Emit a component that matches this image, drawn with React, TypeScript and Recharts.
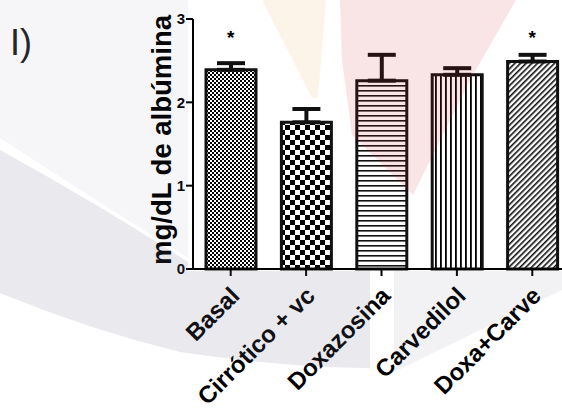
import { Bar, Cell, ComposedChart, ErrorBar, Scatter, XAxis, YAxis } from "recharts";

const groups = ["Basal", "Cirrótico + vc", "Doxazosina", "Carvedilol", "Doxa+Carve"];
const albumin = [2.39, 1.76, 2.26, 2.33, 2.49];
const semUp = [0.08, 0.16, 0.31, 0.08, 0.08];
const starY = [2.83, null, null, null, 2.83];
const yTicks = [0, 1, 2, 3];
const fills = ["url(#pFine)", "url(#pCheck)", "url(#pHoriz)", "url(#pVert)", "url(#pDiag)"];

const data = groups.map((g, i) => ({
  group: g,
  value: albumin[i],
  err: [0, semUp[i]],
  star: starY[i],
}));

const FONT = "'Liberation Sans', Arial, sans-serif";

function XTick({ x, y, payload }: any) {
  return (
    <g transform={`translate(${x - 2},${y + 7})`}>
      <text
        x={0}
        y={0}
        dy="0.72em"
        textAnchor="end"
        transform="rotate(-45)"
        fontFamily={FONT}
        fontWeight="bold"
        fontSize={24}
        fill="#000"
      >
        {payload.value}
      </text>
    </g>
  );
}

function YTick({ x, y, payload }: any) {
  return (
    <text x={x} y={y} dy="0.36em" textAnchor="end" fontFamily={FONT} fontWeight="bold" fontSize={15} fill="#000">
      {payload.value}
    </text>
  );
}

function YLabel({ viewBox }: any) {
  const cx = viewBox.x + viewBox.width - 31;
  const cy = viewBox.y + viewBox.height / 2 - 4;
  return (
    <text
      x={cx}
      y={cy}
      transform={`rotate(-90 ${cx} ${cy})`}
      textAnchor="middle"
      dominantBaseline="central"
      fontFamily={FONT}
      fontWeight="bold"
      fontSize={27}
      textLength={250}
      lengthAdjust="spacingAndGlyphs"
      fill="#000"
    >
      mg/dL de albúmina
    </text>
  );
}

function Star({ cx, cy, payload }: any) {
  if (payload == null || payload.star == null || !Number.isFinite(cy)) return null;
  return (
    <text x={cx} y={cy} dy="0.56em" textAnchor="middle" fontFamily={FONT} fontWeight="bold" fontSize={19} fill="#000">
      *
    </text>
  );
}

function Patterns() {
  return (
    <svg width={0} height={0} style={{ position: "absolute" }}>
      <defs>
        <pattern id="pFine" width={4} height={4} patternUnits="userSpaceOnUse">
          <rect width={4} height={4} fill="#fff" />
          <rect width={2} height={2} fill="#000" />
          <rect x={2} y={2} width={2} height={2} fill="#000" />
        </pattern>
        <pattern id="pCheck" width={10} height={10} patternUnits="userSpaceOnUse">
          <rect width={10} height={10} fill="#fff" />
          <rect width={5} height={5} fill="#000" />
          <rect x={5} y={5} width={5} height={5} fill="#000" />
        </pattern>
        <pattern id="pHoriz" width={5} height={5} patternUnits="userSpaceOnUse">
          <rect width={5} height={5} fill="#fff" />
          <rect width={5} height={1.6} fill="#111" />
        </pattern>
        <pattern id="pVert" width={5} height={5} patternUnits="userSpaceOnUse">
          <rect width={5} height={5} fill="#fff" />
          <rect width={1.8} height={5} fill="#000" />
        </pattern>
        <pattern id="pDiag" width={4} height={4} patternUnits="userSpaceOnUse" patternTransform="rotate(45)">
          <rect width={4} height={4} fill="#fff" />
          <rect width={1.6} height={4} fill="#111" />
        </pattern>
      </defs>
    </svg>
  );
}

function Watermark() {
  return (
    <svg width={562} height={412} style={{ position: "absolute", left: 0, top: 0, pointerEvents: "none" }}>
      <path d="M0,0 L188,0 L188,258 Q95,200 0,138 Z" fill="rgba(110,110,140,0.06)" />
      <path d="M0,150 Q100,205 188,262 L188,271 L370,271 L370,368 Q290,368 180,352 Q90,330 0,293 Z" fill="rgba(110,110,140,0.15)" />
      <path d="M394,271 L562,271 L562,290 L394,372 Z" fill="rgba(110,110,140,0.09)" />
      <path d="M262,0 L326,0 L318,98 L312,98 Z" fill="rgba(240,150,40,0.1)" />
      <path d="M340,0 L516,0 L470,80 L413,195 L352,135 L342,60 Z" fill="rgba(205,40,40,0.12)" />
    </svg>
  );
}

export default function App() {
  return (
    <div style={{ position: "absolute", left: 0, top: 0, width: 562, height: 412, overflow: "hidden", background: "#fff" }}>
      <Patterns />
      <div style={{ position: "absolute", left: 0, top: 0 }}>
        <ComposedChart width={580} height={412} data={data} margin={{ top: 19, right: 10, bottom: 0, left: 0 }}>
          <XAxis
            dataKey="group"
            stroke="#000"
            strokeWidth={2}
            tickSize={7}
            tickLine={{ stroke: "#000", strokeWidth: 2 }}
            tick={<XTick />}
            interval={0}
            height={143}
          />
          <YAxis
            domain={[0, 3]}
            ticks={yTicks}
            width={193}
            stroke="#000"
            strokeWidth={2}
            tickSize={7}
            tickMargin={1}
            tickLine={{ stroke: "#000", strokeWidth: 2 }}
            tick={<YTick />}
            label={<YLabel />}
          />
          <Bar dataKey="value" barSize={50} stroke="#111" strokeWidth={3} isAnimationActive={false}>
            {data.map((d, i) => (
              <Cell key={d.group} fill={fills[i]} />
            ))}
            <ErrorBar dataKey="err" width={14} stroke="#111" strokeWidth={4} direction="y" />
          </Bar>
          <Scatter dataKey="star" shape={<Star />} isAnimationActive={false} />
        </ComposedChart>
      </div>
      <div
        style={{
          position: "absolute",
          left: 10,
          top: 25,
          fontFamily: FONT,
          fontSize: 36,
          color: "#222",
          lineHeight: 1,
        }}
      >
        I)
      </div>
      <Watermark />
    </div>
  );
}
